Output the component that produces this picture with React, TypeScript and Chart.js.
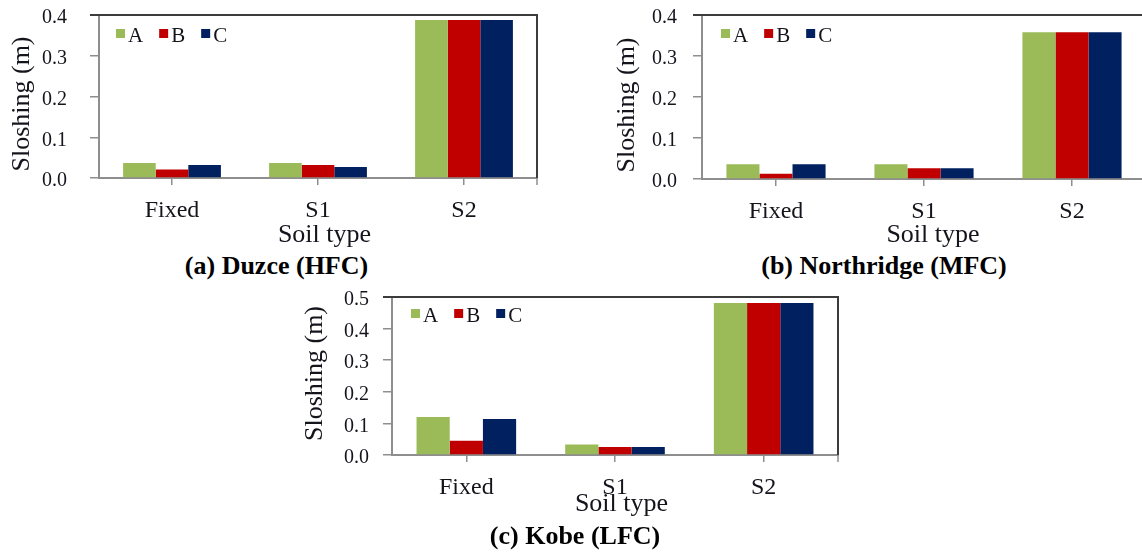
import React, { useEffect, useRef } from "react";
import { Chart, registerables } from "chart.js";

Chart.register(...registerables);

// Categories and series
const soilTypes = ["Fixed", "S1", "S2"];
const seriesNames = ["A", "B", "C"];
const seriesColors = ["#9BBB59", "#C00000", "#002060"];

// Peak sloshing height (m) – Duzce record (HFC)
const duzceA = [0.037, 0.037, 0.388];
const duzceB = [0.021, 0.032, 0.388];
const duzceC = [0.032, 0.027, 0.388];

// Peak sloshing height (m) – Northridge record (MFC)
const northridgeA = [0.036, 0.036, 0.358];
const northridgeB = [0.013, 0.026, 0.358];
const northridgeC = [0.036, 0.026, 0.358];

// Peak sloshing height (m) – Kobe record (LFC)
const kobeA = [0.12, 0.033, 0.481];
const kobeB = [0.045, 0.025, 0.481];
const kobeC = [0.114, 0.025, 0.481];

// Value-axis ticks
const ticksTo04 = [0, 0.1, 0.2, 0.3, 0.4];
const ticksTo05 = [0, 0.1, 0.2, 0.3, 0.4, 0.5];

const yTitle = "Sloshing (m)";
const xTitle = "Soil type";

const SERIF = "'Liberation Serif', 'Times New Roman', serif";
const TEXT = "#14141c";
const AXIS_GRAY = "#8e8e8e";
const FRAME_DARK = "#3c3c3c";

type PanelSpec = {
  id: string;
  caption: string;
  series: number[][];
  yTicks: number[];
  // canvas box on the page
  left: number;
  top: number;
  width: number;
  height: number;
  // plot area inside the canvas
  area: { left: number; top: number; right: number; bottom: number };
  yTickPad: number;
  yTitleAt: [number, number];
  xTitleAt: [number, number];
  legendAt: [number, number];
  captionAt: [number, number];
};

const panels: PanelSpec[] = [
  {
    id: "duzce",
    caption: "(a) Duzce (HFC)",
    series: [duzceA, duzceB, duzceC],
    yTicks: ticksTo04,
    left: 0,
    top: 0,
    width: 560,
    height: 250,
    area: { left: 99, top: 15, right: 537, bottom: 178 },
    yTickPad: 23,
    yTitleAt: [22, 104],
    xTitleAt: [324.5, 241.5],
    legendAt: [17, 14],
    captionAt: [276.5, 275],
  },
  {
    id: "northridge",
    caption: "(b) Northridge (MFC)",
    series: [northridgeA, northridgeB, northridgeC],
    yTicks: ticksTo04,
    left: 580,
    top: 0,
    width: 580,
    height: 250,
    area: { left: 122, top: 15, right: 566, bottom: 179 },
    yTickPad: 16,
    yTitleAt: [47, 105],
    xTitleAt: [353, 242],
    legendAt: [19, 14],
    captionAt: [884, 275],
  },
  {
    id: "kobe",
    caption: "(c) Kobe (LFC)",
    series: [kobeA, kobeB, kobeC],
    yTicks: ticksTo05,
    left: 280,
    top: 280,
    width: 580,
    height: 277,
    area: { left: 112, top: 17, right: 558, bottom: 175 },
    yTickPad: 14,
    yTitleAt: [35, 93.5],
    xTitleAt: [341.5, 231],
    legendAt: [19, 12],
    captionAt: [575, 545],
  },
];

// Draws the dark top/right frame edges, the in-plot legend and both axis titles.
function framePlugin(spec: PanelSpec) {
  return {
    id: "frame-" + spec.id,
    afterDraw(chart: any) {
      const { ctx, chartArea: a } = chart;
      ctx.save();

      ctx.strokeStyle = FRAME_DARK;
      ctx.lineWidth = 2;
      ctx.beginPath();
      ctx.moveTo(a.left - 9, a.top);
      ctx.lineTo(a.right, a.top);
      ctx.lineTo(a.right, a.bottom);
      ctx.stroke();

      ctx.strokeStyle = AXIS_GRAY;
      ctx.lineWidth = 1.5;
      ctx.beginPath();
      ctx.moveTo(a.right, a.bottom);
      ctx.lineTo(a.right, a.bottom + 7);
      ctx.stroke();

      // legend inside the plot area
      ctx.font = `21px ${SERIF}`;
      ctx.textAlign = "left";
      ctx.textBaseline = "alphabetic";
      let x = a.left + spec.legendAt[0];
      const y = a.top + spec.legendAt[1];
      chart.data.datasets.forEach((ds: any) => {
        ctx.fillStyle = ds.backgroundColor;
        ctx.fillRect(x, y, 9, 9);
        ctx.fillStyle = TEXT;
        ctx.fillText(ds.label, x + 12, y + 13);
        x += 12 + ctx.measureText(ds.label).width + 16;
      });

      // axis titles
      ctx.fillStyle = TEXT;
      ctx.font = `26px ${SERIF}`;
      ctx.textAlign = "center";
      ctx.textBaseline = "alphabetic";
      ctx.fillText(xTitle, spec.xTitleAt[0], spec.xTitleAt[1]);

      ctx.translate(spec.yTitleAt[0], spec.yTitleAt[1]);
      ctx.rotate(-Math.PI / 2);
      ctx.textBaseline = "middle";
      ctx.fillText(yTitle, 0, 0);

      ctx.restore();
    },
  };
}

function Panel({ spec }: { spec: PanelSpec }) {
  const ref = useRef<HTMLCanvasElement>(null);

  useEffect(() => {
    const canvas = ref.current;
    if (!canvas) return;
    const chart = new Chart(canvas, {
      type: "bar",
      data: {
        labels: soilTypes,
        datasets: spec.series.map((values, i) => ({
          label: seriesNames[i],
          data: values,
          backgroundColor: seriesColors[i],
          borderWidth: 0,
          categoryPercentage: 0.67,
          barPercentage: 1,
        })),
      },
      options: {
        responsive: false,
        animation: false,
        devicePixelRatio: 1,
        layout: {
          padding: {
            top: spec.area.top,
            right: spec.width - spec.area.right,
            left: 0,
            bottom: 0,
          },
        },
        plugins: {
          legend: { display: false },
          tooltip: { enabled: false },
        },
        scales: {
          x: {
            afterFit: (s: any) => {
              s.height = spec.height - spec.area.bottom;
              s.paddingLeft = 0;
              s.paddingRight = 0;
            },
            border: { color: AXIS_GRAY, width: 2 },
            grid: {
              drawOnChartArea: false,
              offset: false,
              tickLength: 7,
              color: AXIS_GRAY,
              lineWidth: 1.5,
            },
            ticks: {
              font: { family: SERIF, size: 24 },
              color: TEXT,
              padding: 11,
              maxRotation: 0,
            },
          },
          y: {
            min: 0,
            max: spec.yTicks[spec.yTicks.length - 1],
            afterFit: (s: any) => {
              s.width = spec.area.left;
              s.paddingTop = 0;
              s.paddingBottom = 0;
            },
            afterBuildTicks: (s: any) => {
              s.ticks = spec.yTicks.map((v) => ({ value: v }));
            },
            border: { color: AXIS_GRAY, width: 2 },
            grid: {
              drawOnChartArea: false,
              tickLength: 9,
              color: AXIS_GRAY,
              lineWidth: 1.5,
            },
            ticks: {
              font: { family: SERIF, size: 20 },
              color: TEXT,
              padding: spec.yTickPad,
              labelOffset: 3,
              callback: (v: any) => Number(v).toFixed(1),
            },
          },
        },
      },
      plugins: [framePlugin(spec)],
    } as any);
    return () => chart.destroy();
  }, [spec]);

  return (
    <canvas
      ref={ref}
      width={spec.width}
      height={spec.height}
      style={{ position: "absolute", left: spec.left, top: spec.top }}
    />
  );
}

export default function App() {
  return (
    <div
      style={{
        position: "absolute",
        left: 0,
        top: 0,
        width: 1142,
        height: 557,
        overflow: "hidden",
        background: "#ffffff",
      }}
    >
      {panels.map((p) => (
        <Panel key={p.id} spec={p} />
      ))}
      {panels.map((p) => (
        <div
          key={p.id + "-caption"}
          style={{
            position: "absolute",
            left: p.captionAt[0],
            top: p.captionAt[1] - 21.8,
            transform: "translateX(-50%)",
            whiteSpace: "nowrap",
            font: `bold 26px/26px ${SERIF}`,
            color: "#000",
          }}
        >
          {p.caption}
        </div>
      ))}
    </div>
  );
}
